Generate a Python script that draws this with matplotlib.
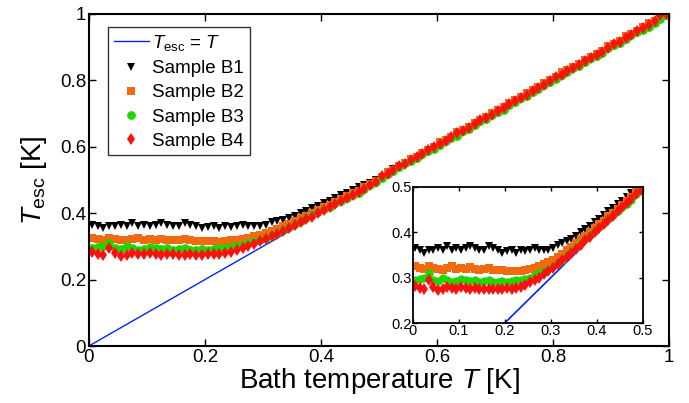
import matplotlib
matplotlib.use('Agg')
import matplotlib.pyplot as plt
import numpy as np

plt.rcParams['font.family'] = ['Liberation Sans', 'DejaVu Sans']
plt.rcParams['mathtext.fontset'] = 'custom'
plt.rcParams['mathtext.rm'] = 'Liberation Sans'
plt.rcParams['mathtext.it'] = 'Liberation Sans:italic'

# bath temperature grid [K]
T = [0.005, 0.015, 0.025, 0.035, 0.045, 0.055, 0.065, 0.075, 0.085, 0.095,
     0.105, 0.115, 0.125, 0.135, 0.145, 0.155, 0.165, 0.175, 0.185, 0.195,
     0.205, 0.215, 0.225, 0.235, 0.245, 0.255, 0.265, 0.275, 0.285, 0.295,
     0.305, 0.315, 0.325, 0.335, 0.345, 0.355, 0.365, 0.375, 0.385, 0.395,
     0.405, 0.415, 0.425, 0.435, 0.445, 0.455, 0.465, 0.475, 0.485, 0.495,
     0.505, 0.515, 0.525, 0.535, 0.545, 0.555, 0.565, 0.575, 0.585, 0.595,
     0.605, 0.615, 0.625, 0.635, 0.645, 0.655, 0.665, 0.675, 0.685, 0.695,
     0.705, 0.715, 0.725, 0.735, 0.745, 0.755, 0.765, 0.775, 0.785, 0.795,
     0.805, 0.815, 0.825, 0.835, 0.845, 0.855, 0.865, 0.875, 0.885, 0.895,
     0.905, 0.915, 0.925, 0.935, 0.945, 0.955, 0.965, 0.975, 0.985, 0.995]

b1 = [0.365, 0.360, 0.355, 0.360, 0.362, 0.365, 0.360, 0.370, 0.360, 0.365,
      0.360, 0.365, 0.370, 0.365, 0.360, 0.362, 0.370, 0.365, 0.360, 0.355,
      0.358, 0.360, 0.355, 0.360, 0.358, 0.362, 0.365, 0.360, 0.362, 0.360,
      0.365, 0.372, 0.376, 0.380, 0.386, 0.392, 0.400, 0.408, 0.415, 0.422,
      0.430, 0.438, 0.446, 0.454, 0.462, 0.470, 0.478, 0.486, 0.492, 0.500,
      0.510, 0.522, 0.532, 0.538, 0.550, 0.562, 0.568, 0.576, 0.590, 0.598,
      0.606, 0.618, 0.630, 0.637, 0.648, 0.660, 0.665, 0.676, 0.690, 0.695,
      0.705, 0.718, 0.726, 0.734, 0.746, 0.752, 0.765, 0.778, 0.784, 0.792,
      0.804, 0.816, 0.824, 0.832, 0.843, 0.855, 0.864, 0.870, 0.884, 0.895,
      0.902, 0.910, 0.924, 0.936, 0.944, 0.951, 0.962, 0.977, 0.984, 0.995]

b2 = [0.325, 0.322, 0.320, 0.325, 0.322, 0.320, 0.318, 0.322, 0.325, 0.320,
      0.322, 0.320, 0.323, 0.320, 0.318, 0.320, 0.322, 0.318, 0.317, 0.316,
      0.315, 0.315, 0.314, 0.315, 0.318, 0.320, 0.322, 0.325, 0.330, 0.335,
      0.340, 0.345, 0.352, 0.360, 0.368, 0.376, 0.385, 0.393, 0.400, 0.410,
      0.418, 0.425, 0.435, 0.443, 0.452, 0.460, 0.468, 0.478, 0.488, 0.498,
      0.510, 0.523, 0.530, 0.541, 0.552, 0.562, 0.570, 0.582, 0.591, 0.600,
      0.613, 0.620, 0.630, 0.643, 0.650, 0.661, 0.672, 0.680, 0.690, 0.702,
      0.710, 0.720, 0.733, 0.740, 0.750, 0.763, 0.770, 0.780, 0.793, 0.800,
      0.810, 0.824, 0.830, 0.840, 0.848, 0.862, 0.870, 0.880, 0.888, 0.902,
      0.910, 0.920, 0.933, 0.940, 0.950, 0.962, 0.972, 0.980, 0.990, 1.000]

b3 = [0.295, 0.298, 0.300, 0.310, 0.295, 0.292, 0.300, 0.295, 0.290, 0.293,
      0.298, 0.295, 0.292, 0.295, 0.290, 0.292, 0.295, 0.290, 0.290, 0.292,
      0.290, 0.292, 0.295, 0.295, 0.298, 0.300, 0.305, 0.310, 0.315, 0.320,
      0.325, 0.333, 0.340, 0.350, 0.358, 0.367, 0.376, 0.385, 0.394, 0.403,
      0.412, 0.420, 0.430, 0.438, 0.447, 0.455, 0.462, 0.472, 0.485, 0.495,
      0.505, 0.518, 0.526, 0.538, 0.550, 0.556, 0.566, 0.578, 0.588, 0.594,
      0.606, 0.616, 0.627, 0.633, 0.646, 0.655, 0.666, 0.677, 0.684, 0.695,
      0.706, 0.712, 0.725, 0.736, 0.746, 0.754, 0.764, 0.775, 0.786, 0.796,
      0.803, 0.815, 0.826, 0.836, 0.843, 0.854, 0.866, 0.874, 0.882, 0.896,
      0.905, 0.914, 0.926, 0.936, 0.945, 0.952, 0.960, 0.972, 0.985, 0.996]

b4 = [0.282, 0.278, 0.275, 0.295, 0.280, 0.272, 0.275, 0.280, 0.278, 0.276,
      0.280, 0.278, 0.275, 0.278, 0.276, 0.274, 0.275, 0.276, 0.274, 0.275,
      0.277, 0.276, 0.278, 0.280, 0.284, 0.290, 0.295, 0.300, 0.308, 0.315,
      0.322, 0.330, 0.338, 0.346, 0.355, 0.364, 0.372, 0.382, 0.390, 0.400,
      0.410, 0.418, 0.428, 0.437, 0.446, 0.455, 0.464, 0.474, 0.484, 0.494,
      0.512, 0.517, 0.530, 0.542, 0.548, 0.560, 0.570, 0.579, 0.589, 0.600,
      0.609, 0.617, 0.628, 0.641, 0.649, 0.657, 0.669, 0.681, 0.688, 0.697,
      0.708, 0.716, 0.729, 0.738, 0.748, 0.757, 0.769, 0.777, 0.787, 0.797,
      0.809, 0.817, 0.828, 0.838, 0.847, 0.859, 0.868, 0.876, 0.886, 0.897,
      0.909, 0.917, 0.928, 0.937, 0.948, 0.958, 0.968, 0.979, 0.998, 0.999]

line_T = [0.0, 1.0]

series = [
    (b1, 'v', 'black', 'Sample B1'),
    (b2, 's', '#f26a10', 'Sample B2'),
    (b3, 'o', '#22d400', 'Sample B3'),
    (b4, 'd', '#ff1010', 'Sample B4'),
]

fig = plt.figure(figsize=(6.89, 4.03), dpi=100)
ax = fig.add_axes([0.129, 0.1414, 0.842, 0.824])

ax.plot(line_T, line_T, color='#0022ff', lw=1.0, label=r'$T_{\rm esc}$ = $T$', zorder=1)
for y, m, c, lab in series:
    ax.plot(T, y, linestyle='none', marker=m, color=c, markersize=6.3,
            markeredgewidth=0, label=lab, zorder=2)

ax.set_xlim(0, 1)
ax.set_ylim(0, 1)
ax.set_xticks([0, 0.2, 0.4, 0.6, 0.8, 1])
ax.set_yticks([0, 0.2, 0.4, 0.6, 0.8, 1])
ax.set_xticklabels(['0', '0.2', '0.4', '0.6', '0.8', '1'])
ax.set_yticklabels(['0', '0.2', '0.4', '0.6', '0.8', '1'])
ax.tick_params(direction='in', top=True, right=True, length=5, width=1,
               labelsize=13.5, pad=2)
for s in ax.spines.values():
    s.set_linewidth(1.5)
ax.set_xlabel(r'Bath temperature $T$ [K]', fontsize=20, labelpad=0)
ax.set_ylabel(r'$T_{\rm esc}$ [K]', fontsize=20, labelpad=8)

leg = ax.legend(loc='upper left', bbox_to_anchor=(0.033, 0.96), fontsize=13.5,
                frameon=True, fancybox=False, edgecolor='black',
                handlelength=1.9, handletextpad=0.15, borderpad=0.3,
                labelspacing=0.38, borderaxespad=0)
leg.get_frame().set_linewidth(1.0)

# inset: zoom on low-temperature region
ins = fig.add_axes([0.599, 0.1985, 0.334, 0.3375])
ins.plot(line_T, line_T, color='#0022ff', lw=1.2, zorder=1)
for y, m, c, lab in series:
    ins.plot(T, y, linestyle='none', marker=m, color=c, markersize=6,
             markeredgewidth=0, zorder=2)
ins.set_xlim(0, 0.5)
ins.set_ylim(0.2, 0.5)
ins.set_xticks([0, 0.1, 0.2, 0.3, 0.4, 0.5])
ins.set_yticks([0.2, 0.3, 0.4, 0.5])
ins.set_xticklabels(['0', '0.1', '0.2', '0.3', '0.4', '0.5'])
ins.set_yticklabels(['0.2', '0.3', '0.4', '0.5'])
ins.tick_params(direction='in', top=True, right=True, length=3, width=1,
                labelsize=10.5, pad=1)
for s in ins.spines.values():
    s.set_linewidth(1.3)

fig.savefig('out.png', dpi=100)
